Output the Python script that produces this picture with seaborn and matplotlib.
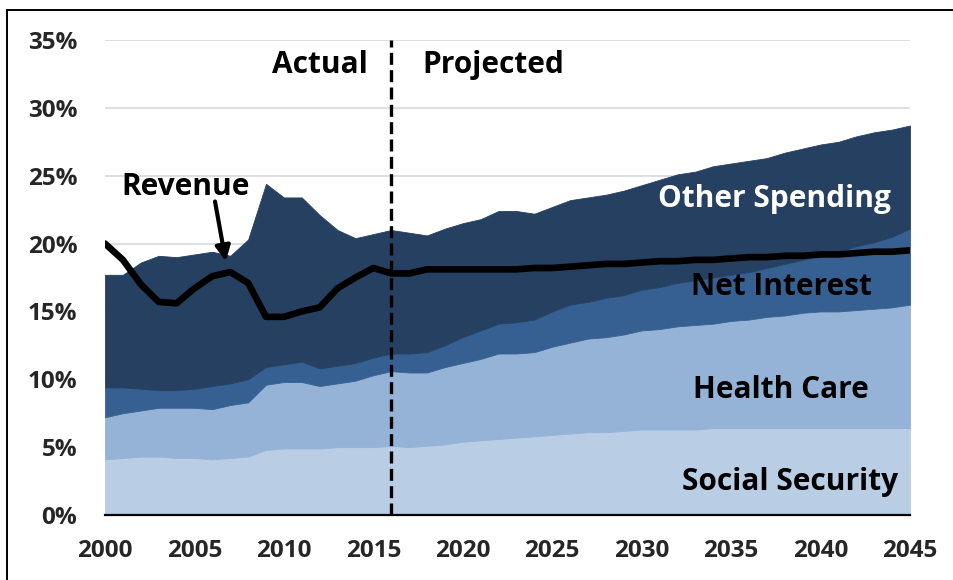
import numpy as np
import pandas as pd
import matplotlib
matplotlib.use("Agg")
import matplotlib.pyplot as plt
from matplotlib.patches import Rectangle
import seaborn as sns

# ---------------- data (percent of GDP) ----------------
years = list(range(2000, 2046))

social_security = [4.1, 4.2, 4.3, 4.3, 4.2, 4.2, 4.1, 4.2, 4.3, 4.8,
                   4.9, 4.9, 4.9, 5.0, 5.0, 5.0, 5.1, 5.0, 5.1, 5.2,
                   5.4, 5.5, 5.6, 5.7, 5.8, 5.9, 6.0, 6.1, 6.1, 6.2,
                   6.3, 6.3, 6.3, 6.3, 6.4, 6.4, 6.4, 6.4, 6.4, 6.4,
                   6.4, 6.4, 6.4, 6.4, 6.4, 6.4]

health_care = [3.1, 3.3, 3.4, 3.6, 3.7, 3.7, 3.7, 3.9, 4.0, 4.8,
               4.9, 4.9, 4.6, 4.7, 4.9, 5.3, 5.5, 5.5, 5.4, 5.7,
               5.8, 6.0, 6.3, 6.2, 6.2, 6.5, 6.7, 6.9, 7.0, 7.1,
               7.3, 7.4, 7.6, 7.7, 7.7, 7.9, 8.0, 8.2, 8.3, 8.5,
               8.6, 8.6, 8.7, 8.8, 8.9, 9.1]

net_interest = [2.2, 1.9, 1.6, 1.3, 1.3, 1.4, 1.7, 1.6, 1.7, 1.3,
                1.3, 1.5, 1.3, 1.3, 1.3, 1.3, 1.3, 1.4, 1.5, 1.6,
                1.9, 2.1, 2.2, 2.3, 2.4, 2.6, 2.8, 2.7, 2.9, 2.9,
                3.0, 3.1, 3.2, 3.3, 3.4, 3.4, 3.5, 3.6, 3.8, 3.9,
                4.1, 4.4, 4.7, 4.9, 5.2, 5.6]

other_spending = [8.3, 8.3, 9.3, 9.9, 9.8, 9.9, 9.9, 9.4, 10.3, 13.5,
                  12.3, 12.1, 11.3, 10.0, 9.2, 9.1, 9.1, 8.9, 8.6, 8.6,
                  8.4, 8.2, 8.3, 8.2, 7.8, 7.7, 7.7, 7.7, 7.6, 7.7,
                  7.7, 7.9, 8.0, 8.0, 8.2, 8.2, 8.2, 8.1, 8.2, 8.2,
                  8.2, 8.1, 8.1, 8.1, 7.9, 7.6]

revenue = [20.0, 18.8, 17.0, 15.7, 15.6, 16.7, 17.6, 17.9, 17.1, 14.6,
           14.6, 15.0, 15.3, 16.7, 17.5, 18.2, 17.8, 17.8, 18.1, 18.1,
           18.1, 18.1, 18.1, 18.1, 18.2, 18.2, 18.3, 18.4, 18.5, 18.5,
           18.6, 18.7, 18.7, 18.8, 18.8, 18.9, 19.0, 19.0, 19.1, 19.1,
           19.2, 19.2, 19.3, 19.4, 19.4, 19.5]

series_names = ["Social Security", "Health Care", "Net Interest", "Other Spending"]
series_colors = ["#B9CDE5", "#95B3D7", "#376092", "#254061"]
y_ticks = [0, 5, 10, 15, 20, 25, 30, 35]
x_ticks = [2000, 2005, 2010, 2015, 2020, 2025, 2030, 2035, 2040, 2045]
split_year = 2016

# ---------------- style ----------------
sns.set_theme(style="white")
plt.rcParams["font.family"] = ["Open Sans", "DejaVu Sans"]
plt.rcParams["font.weight"] = "bold"

fig = plt.figure(figsize=(9.54, 5.8), dpi=100)
ax = fig.add_axes([105 / 954, 65 / 580, 805 / 954, 475 / 580])

# gridlines
for t in y_ticks[1:]:
    ax.axhline(t, color="#D9D9D9", lw=1.2, zorder=0)

stacks = [social_security, health_care, net_interest, other_spending]
polys = ax.stackplot(years, *stacks, colors=series_colors, zorder=1)
for p, c in zip(polys, series_colors):
    p.set_edgecolor(c)
    p.set_linewidth(0.6)

df_rev = pd.DataFrame({"year": years, "revenue": revenue})
sns.lineplot(data=df_rev, x="year", y="revenue", color="black", lw=4.8,
             ax=ax, zorder=3)

ax.axvline(split_year, color="black", lw=2.4, dashes=(3.6, 1.6), zorder=4)

ax.set_xlim(2000, 2045)
ax.set_ylim(0, 35)
ax.set_xticks(x_ticks)
ax.set_xticklabels([str(x) for x in x_ticks], fontsize=17.5, fontweight="bold")
ax.set_yticks(y_ticks)
ax.set_yticklabels([f"{t}%" for t in y_ticks], fontsize=17.5, fontweight="bold")
ax.tick_params(axis="x", length=0, pad=17)
ax.tick_params(axis="y", length=0, pad=20)
ax.set_xlabel("")
ax.set_ylabel("")
for s in ["top", "right", "left"]:
    ax.spines[s].set_visible(False)
ax.spines["bottom"].set_color("black")
ax.spines["bottom"].set_linewidth(1.6)
ax.spines["bottom"].set_zorder(5)

# labels (positioned by baseline)
lab_kw = dict(fontsize=21.5, fontweight="bold", va="baseline", ha="center", zorder=6)
ax.text(2037.4, 22.7, "Other Spending", color="white", **lab_kw)
ax.text(2037.8, 16.2, "Net Interest", color="black", **lab_kw)
ax.text(2037.8, 8.62, "Health Care", color="black", **lab_kw)
ax.text(2038.3, 1.84, "Social Security", color="black", **lab_kw)
ax.text(2012.0, 32.57, "Actual", color="black", **lab_kw)
ax.text(2021.7, 32.57, "Projected", color="black", **lab_kw)
ax.text(2004.5, 23.58, "Revenue", color="black", **lab_kw)

ax.annotate("", xy=(2006.75, 18.7), xytext=(2006.15, 23.1),
            arrowprops=dict(arrowstyle="-|>", lw=3, color="black",
                            mutation_scale=22, shrinkA=0, shrinkB=0),
            zorder=6)

# outer frame (partially cut off like the reference)
fig.patches.append(Rectangle((7 / 954, -0.1), 1.2, 1.0 - 10 / 580 + 0.1,
                             transform=fig.transFigure, fill=False,
                             edgecolor="black", lw=1.4))

fig.savefig("out.png", dpi=100)
